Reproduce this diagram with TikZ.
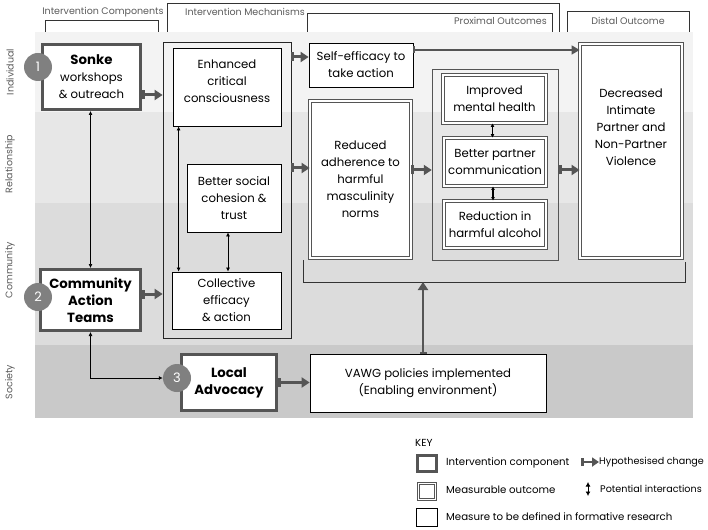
\documentclass[tikz,border=0pt]{standalone}
\usepackage{fontspec}
\setmainfont{Poppins}
\usetikzlibrary{arrows.meta}

\definecolor{bandind}{HTML}{F3F3F3}
\definecolor{bandrel}{HTML}{E7E7E7}
\definecolor{bandcom}{HTML}{DCDCDC}
\definecolor{bandsoc}{HTML}{C9C9C9}
\definecolor{compgray}{HTML}{555555}
\definecolor{arrgray}{HTML}{555555}
\definecolor{circgray}{HTML}{808080}
\definecolor{labgray}{HTML}{5A5A5A}

\newcommand\boxfont{\fontsize{11.7}{17}\selectfont}
\newcommand\headfont{\fontsize{9.5}{11}\selectfont}
\newcommand\keyfont{\fontsize{10.2}{12}\selectfont}
\newcommand\heavy[1]{{\fontsize{13.3}{17}\selectfont\bfseries #1}}

\tikzset{
  box/.style={draw=black, line width=0.8pt, fill=white, align=center, inner sep=0pt, font=\boxfont},
  compbox/.style={box, draw=compgray, line width=3pt},
  measbox/.style={box, draw=compgray, line width=0.8pt, double=white, double distance=1.8pt},
  groupbox/.style={draw=black!85, line width=0.8pt, inner sep=0pt},
  numcirc/.style={circle, fill=circgray, text=white, minimum size=28pt, inner sep=0pt, font=\fontsize{13}{13}\selectfont},
  bandlabel/.style={rotate=90, text=labgray, font=\headfont},
  headlabel/.style={text=labgray, font=\headfont, inner sep=0pt},
  bracket/.style={draw=black!80, line width=0.6pt},
  change/.style={draw=arrgray, line width=3pt, {Bar[width=9pt]}-{Triangle[length=8pt,width=10pt]}},
  outlink/.style={draw=arrgray, line width=1.6pt, {Bar[width=7pt]}-{Triangle[length=8pt,width=9pt]}},
  interact/.style={line width=0.7pt, {Latex[length=4pt,width=4pt]}-{Latex[length=4pt,width=4pt]}},
  smallinteract/.style={line width=1.2pt, {Latex[length=3.5pt,width=4pt]}-{Latex[length=3.5pt,width=4pt]}},
  keytext/.style={anchor=west, font=\keyfont, inner sep=0pt}
}

\begin{document}
\begin{tikzpicture}[x=1pt,y=-1pt]
\useasboundingbox (0,0) rectangle (708,529);

% levels
\fill[bandind] (35,32) rectangle (693,112);
\fill[bandrel] (35,112) rectangle (693,203);
\fill[bandcom] (35,203) rectangle (693,345);
\fill[bandsoc] (35,345) rectangle (693,418);
\node[bandlabel] (lind) at (10,72) {Individual};
\node[bandlabel] (lrel) at (10,164) {Relationship};
\node[bandlabel] (lcom) at (10,270) {Community};
\node[bandlabel] (lsoc) at (10,382) {Society};

% column headings
\draw[bracket] (45,32) |- (158,20) -- (158,32);
\node[headlabel] (hcomp) at (103,12) {Intervention Components};
\draw[bracket] (167,32) |- (559,3) -- (559,32);
\node[headlabel, anchor=west] (hmech) at (185,12) {Intervention Mechanisms};
\draw[bracket] (307,32) |- (552,13) -- (552,32);
\node[headlabel, anchor=east] (hprox) at (547,21) {Proximal Outcomes};
\draw[bracket] (567,32) |- (689,11) -- (689,32);
\node[headlabel] (hdist) at (628,21) {Distal Outcome};

% intervention components
\node[compbox, minimum width=98pt, minimum height=65pt] (sonke) at (91.5,77) {\heavy{Sonke}\\workshops\\\& outreach};
\node[compbox, minimum width=100pt, minimum height=61pt] (cat) at (90.5,300) {\heavy{Community}\\\heavy{Action}\\\heavy{Teams}};
\node[compbox, minimum width=95pt, minimum height=56pt] (advocacy) at (229,382.5) {\heavy{Local}\\\heavy{Advocacy}};

% mechanisms
\node[groupbox, minimum width=128pt, minimum height=296pt] (mech) at (227,190) {};
\node[box, minimum width=108pt, minimum height=78pt] (enh) at (227,87) {};
\node[align=center, font=\boxfont] (enhtxt) at (227,81) {Enhanced\\critical\\consciousness};
\node[box, minimum width=94pt, minimum height=68pt] (cohesion) at (234,198) {Better social\\cohesion \&\\trust};
\node[box, minimum width=109pt, minimum height=57pt] (collective) at (226.5,300.5) {Collective\\efficacy\\\& action};

% outcomes
\node[box, minimum width=104pt, minimum height=44pt] (selfeff) at (361,65) {Self-efficacy to\\take action};
\node[measbox, minimum width=101pt, minimum height=157pt] (reduced) at (360.5,179.5) {Reduced\\adherence to\\harmful\\masculinity\\norms};
\node[groupbox, draw=compgray, line width=1.4pt, minimum width=126pt, minimum height=191pt] (measured) at (495.5,165) {};
\node[measbox, minimum width=103pt, minimum height=48pt] (mental) at (494.5,99) {Improved\\mental health};
\node[measbox, minimum width=102pt, minimum height=48pt] (comm) at (495,162) {Better partner\\communication};
\node[measbox, minimum width=102pt, minimum height=47pt] (alcohol) at (495,224.5) {Reduction in\\harmful alcohol};
\node[measbox, minimum width=102pt, minimum height=214pt] (distal) at (631,151) {};
\node[align=center, font=\boxfont, anchor=north] (distaltxt) at (631,85) {Decreased\\Intimate\\Partner and\\Non-Partner\\Violence};
\node[box, minimum width=236pt, minimum height=58pt] (vawg) at (428,383) {VAWG policies implemented\\(Enabling environment)};
\draw[bracket, line width=0.8pt] (303,260) |- (685,282) -- (685,262);
\coordinate (outc) at (423,282);

% numbers
\node[numcirc] (n1) at (38,67) {1};
\node[numcirc] (n2) at (38,297) {2};
\node[numcirc] (n3) at (177,378) {3};

% hypothesised changes
\draw[change] ([yshift=-18pt]sonke.east) -- ([yshift=-18pt]sonke.east -| mech.west);
\draw[change] ([yshift=6pt]cat.east) -- ([yshift=6pt]cat.east -| mech.west);
\draw[change] ([yshift=8pt]selfeff.west -| mech.east) -- ([yshift=8pt]selfeff.west);
\draw[change] ([yshift=11.5pt]reduced.west -| mech.east) -- ([yshift=11.5pt]reduced.west);
\draw[change] ([yshift=9.5pt]reduced.east) -- ([yshift=9.5pt]reduced.east -| measured.west);
\draw[change] ([yshift=-5pt]measured.east) -- ([yshift=-5pt]measured.east -| distal.west);
\draw[change] (advocacy.east) -- (advocacy.east -| vawg.west);
\draw[outlink] ([yshift=15pt]selfeff.east) -- ([yshift=15pt]selfeff.east -| distal.west);
\draw[outlink, line width=2pt, {Bar[width=7pt]}-{Triangle[length=8pt,width=10pt]}] (vawg.north -| outc) -- (outc);

% potential interactions
\draw[interact] (sonke.south -| cat.north) -- (cat.north);
\draw[interact] (cat.south) |- (n3.west);
\draw[interact] ([xshift=6pt]enh.south west) -- ([xshift=6pt]enh.south west |- collective.north);
\draw[interact] ([xshift=-6pt]cohesion.south) -- ([xshift=-6pt]cohesion.south |- collective.north);
\draw[smallinteract] ([xshift=-2pt]mental.south) -- ([xshift=-2pt]mental.south |- comm.north);
\draw[smallinteract] ([xshift=-2pt]comm.south) -- ([xshift=-2pt]comm.south |- alcohol.north);

% key
\node[keytext] (keyhead) at (415,443) {KEY};
\node[compbox, minimum width=19pt, minimum height=16pt] (keycomp) at (427,463.5) {};
\node[keytext] (keycomptxt) at (446,463) {Intervention component};
\node[measbox, minimum width=17pt, minimum height=16pt] (keymeas) at (427,491.5) {};
\node[keytext] (keymeastxt) at (446,490) {Measurable outcome};
\node[box, minimum width=21pt, minimum height=18pt] (keyplain) at (427,517.5) {};
\node[keytext] (keyplaintxt) at (446,517) {Measure to be defined in formative research};
\node[keytext, font=\fontsize{9.6}{11}\selectfont] (keychgtxt) at (599,462) {Hypothesised change};
\coordinate (keychg) at (581,462);
\draw[change, line width=2.5pt, {Bar[width=8pt]}-{Triangle[length=7pt,width=9pt]}] (keychg) -- (keychgtxt.west);
\node[keytext, font=\fontsize{9.6}{11}\selectfont] (keyinttxt) at (600,489) {Potential interactions};
\coordinate (keyint) at (588,482);
\draw[line width=1pt, {Latex[length=4.5pt,width=5pt]}-{Latex[length=4.5pt,width=5pt]}] (keyint) -- (keyint |- 0,496);
\end{tikzpicture}
\end{document}
